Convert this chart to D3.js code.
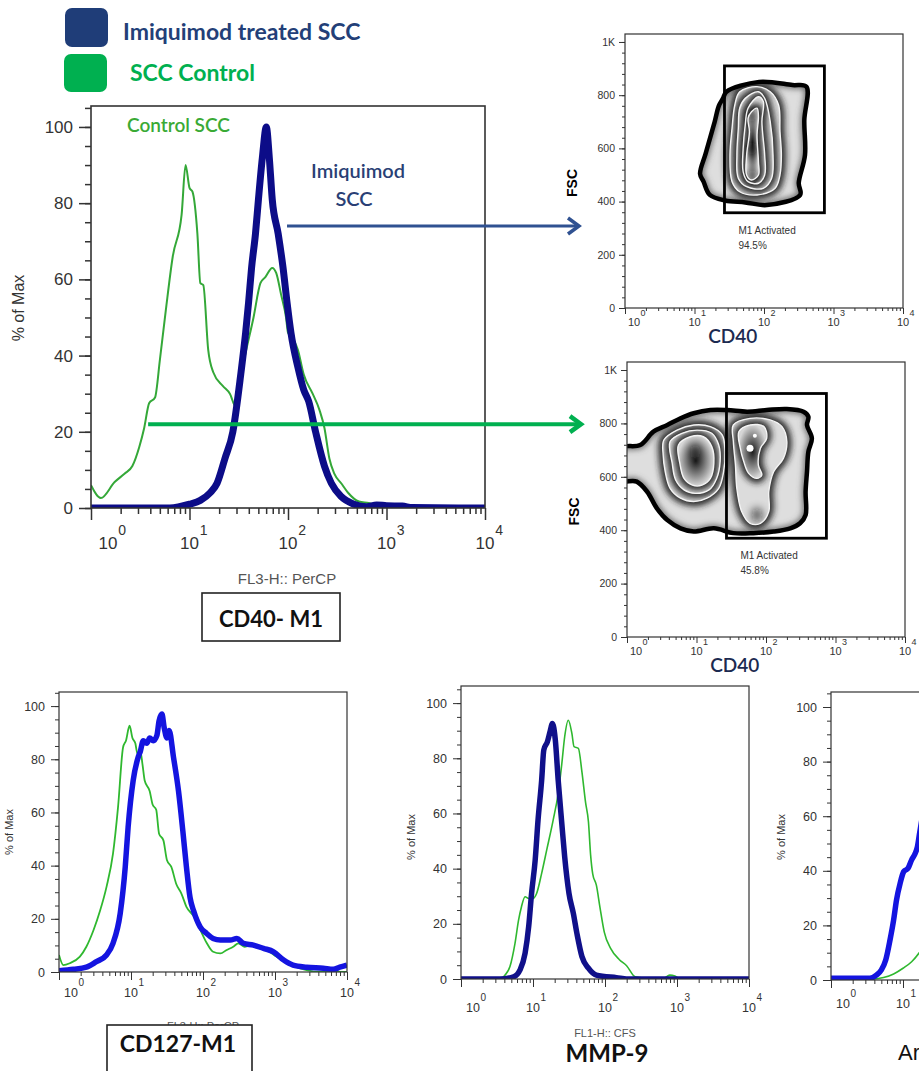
<!DOCTYPE html>
<html>
<head>
<meta charset="utf-8">
<script src="https://cdn.jsdelivr.net/npm/d3@7"></script>
<style>
  body { margin: 0; background: #fff; }
  svg { display: block; }
</style>
</head>
<body>
<div id="chart"></div>
<script>
const WIDTH = 919;
const HEIGHT = 1071;
const FONT = "'Liberation Sans', Arial, sans-serif";
const TITLE_FONT = "Lato, 'Open Sans', sans-serif";

// histogram traces, [log10 channel, % of max]
const cd40Control = [[0,6],[0.10,2.6],[0.24,6.8],[0.34,9],[0.42,11],[0.49,16],[0.54,21],[0.59,27.5],[0.65,29],[0.70,39],[0.76,52],[0.83,66],[0.92,77],[0.96,90],[1.00,84],[1.03,83],[1.08,72],[1.11,59],[1.14,58.5],[1.19,41.5],[1.24,35.7],[1.34,32],[1.41,30],[1.47,26.5],[1.54,37],[1.65,50],[1.72,59],[1.77,60.6],[1.84,63],[1.88,61.7],[1.93,56],[1.98,50],[2.00,46],[2.06,44],[2.10,41.5],[2.16,35],[2.25,30],[2.32,25.7],[2.37,21],[2.42,13],[2.47,9],[2.54,6.5],[2.61,4],[2.72,1.7],[2.82,1.3],[2.95,0.3],[4.0,0]];
const cd40Imiquimod = [[0,0],[0.80,0],[1.00,1],[1.11,2],[1.21,4],[1.28,6.5],[1.36,13],[1.44,20],[1.52,35],[1.57,46],[1.60,54],[1.63,63],[1.67,72],[1.70,81],[1.74,92],[1.78,100],[1.81,92],[1.84,81],[1.90,72],[1.95,63],[1.99,54],[2.03,46],[2.10,37],[2.16,31],[2.21,28],[2.28,20],[2.37,11],[2.44,6.5],[2.54,3],[2.67,1],[2.80,0.3],[2.90,0.8],[3.00,0.6],[3.16,0.5],[3.26,0.1],[4.0,0]];
const cd127Control = [[0,6.4],[0.06,2.6],[0.15,3.3],[0.29,5.8],[0.38,9.5],[0.48,15.8],[0.57,23],[0.66,32],[0.75,44.5],[0.82,62],[0.89,84.5],[0.93,87],[0.98,92.6],[1.02,88],[1.06,86],[1.09,82],[1.13,83],[1.16,78],[1.19,72],[1.26,68],[1.30,63],[1.35,61],[1.39,52],[1.45,49.5],[1.50,42],[1.56,39.5],[1.63,33],[1.70,29.5],[1.77,24.5],[1.87,21],[1.96,16],[2.05,11],[2.14,7.6],[2.24,7],[2.33,8.3],[2.42,9.5],[2.49,10.8],[2.58,9.5],[2.70,10.1],[2.79,8.9],[2.88,8.3],[3.02,5.8],[3.16,3.3],[3.35,1.4],[3.58,0.1],[4.0,0]];
const cd127Imiquimod = [[0,0.5],[0.20,1],[0.38,1.8],[0.52,3.9],[0.66,6.4],[0.75,10.8],[0.85,22],[0.92,39.5],[0.96,54.5],[1.03,72],[1.10,80.8],[1.13,83],[1.17,87],[1.22,86],[1.26,88],[1.31,87],[1.36,89],[1.39,94.5],[1.43,97],[1.46,92],[1.50,88],[1.53,90.8],[1.59,80.8],[1.66,68],[1.72,53],[1.77,39.5],[1.82,28],[1.87,23],[1.96,17],[2.05,14.5],[2.14,12.6],[2.24,12],[2.38,12],[2.47,12.6],[2.56,10.8],[2.70,10.1],[2.84,8.9],[2.98,7.6],[3.12,4.5],[3.25,2.6],[3.44,1.8],[3.67,1.4],[3.81,1],[3.90,1.8],[4.0,2.6]];
const mmp9Control = [[0,0],[0.54,0],[0.61,1.4],[0.68,4.5],[0.75,12.9],[0.80,21.4],[0.84,26.2],[0.89,29.8],[0.94,29.2],[1.00,29.2],[1.05,31],[1.12,38.3],[1.19,46.7],[1.28,57.6],[1.35,67.3],[1.40,78],[1.44,87.8],[1.49,93.8],[1.54,89],[1.57,84.2],[1.63,83.6],[1.68,75],[1.73,64],[1.77,57],[1.80,45],[1.83,38],[1.88,34],[1.93,26],[1.99,17],[2.08,11],[2.20,7],[2.30,4.8],[2.42,0.8],[2.72,0],[2.81,0.2],[2.90,1.4],[2.97,1.1],[3.04,0],[4.0,0]];
const mmp9Imiquimod = [[0,0],[0.54,0],[0.73,0.8],[0.82,3.3],[0.89,9.3],[0.94,19],[0.98,31],[1.03,43],[1.07,57.6],[1.12,72],[1.15,83],[1.20,86],[1.24,90],[1.27,92.6],[1.31,86.6],[1.35,72],[1.40,56.4],[1.44,44.3],[1.50,31],[1.56,23.8],[1.61,16.5],[1.68,8.1],[1.77,3.9],[1.88,1.4],[2.16,0.5],[2.35,0],[4.0,0]];
const argControl = [[0,0.4],[0.59,0.4],[0.73,0.9],[0.87,2.2],[1.00,4.3],[1.12,6.7],[1.22,9.8],[1.30,13]];
const argImiquimod = [[0,0.6],[0.54,0.6],[0.63,1.8],[0.70,3.7],[0.76,7.3],[0.82,14.7],[0.87,22],[0.91,29.3],[0.96,35.4],[1.01,39.7],[1.07,40.9],[1.12,44],[1.17,46.4],[1.20,48.8],[1.23,53.7],[1.27,60]];

const pctTicks = [0, 20, 40, 60, 80, 100];
const decadeTicks = [0, 1, 2, 3, 4];
const fscTicks = [0, 200, 400, 600, 800, 1000];
const fscTickLabels = ['0', '200', '400', '600', '800', '1K'];

// zebra contour rings, [log10 CD40, FSC]
const treatedOutline = [[1.41,788],[1.46,813],[1.93,850],[2.41,838],[2.61,832],[2.58,706],[2.59,575],[2.50,470],[2.52,425],[2.04,387],[1.73,397],[1.44,404],[1.22,425],[1.13,475],[1.08,504],[1.16,580],[1.29,700],[1.35,760]];
const treatedRings = [[
  [[1.65,813],[1.90,832],[2.09,813],[2.21,763],[2.23,663],[2.25,575],[2.23,500],[2.16,450],[1.90,425],[1.65,437],[1.54,475],[1.51,575],[1.54,675],[1.58,763]],
  [[1.73,788],[1.92,813],[2.01,788],[2.09,700],[2.13,575],[2.11,488],[1.99,450],[1.75,456],[1.63,488],[1.61,575],[1.63,675],[1.65,751]],
  [[1.77,751],[1.92,794],[1.99,776],[1.97,700],[2.01,575],[2.01,500],[1.92,469],[1.77,475],[1.70,512],[1.70,600],[1.73,688]],
  [[1.82,738],[1.90,751],[1.92,719],[1.90,650],[1.92,550],[1.92,500],[1.82,481],[1.75,500],[1.75,575],[1.79,663],[1.77,713]]
]];
const treatedDarkSpots = [[1.82,600],[1.82,725],[1.83,494]];
const treatedLightSpots = [];
const treatedGate = { cd40: [27, 740], fsc: [358, 910], label: 'M1 Activated', pct: '94.5%' };

const controlOutline = [[-0.1,707],[0.19,719],[0.38,769],[0.58,794],[0.77,819],[0.96,838],[1.20,850],[1.44,850],[1.73,844],[2.01,850],[2.30,854],[2.54,844],[2.61,825],[2.59,794],[2.66,744],[2.61,694],[2.59,619],[2.57,545],[2.57,457],[2.49,426],[2.35,407],[2.11,395],[1.82,389],[1.53,389],[1.25,407],[0.96,395],[0.77,407],[0.58,438],[0.43,482],[0.29,544],[0.14,582],[-0.1,588]];
const controlRings = [
  [
    [[0.53,738],[0.72,775],[0.96,794],[1.20,788],[1.37,757],[1.41,694],[1.39,619],[1.32,557],[1.15,520],[0.96,507],[0.77,520],[0.62,557],[0.55,619],[0.52,682]],
    [[0.62,732],[0.79,763],[1.01,775],[1.22,763],[1.32,719],[1.34,657],[1.29,594],[1.18,551],[0.98,538],[0.82,551],[0.70,588],[0.65,651]],
    [[0.74,719],[0.91,750],[1.10,750],[1.22,713],[1.25,651],[1.20,594],[1.08,569],[0.94,569],[0.82,594],[0.76,651]]
  ],
  [
    [[1.53,794],[1.77,819],[2.06,813],[2.23,788],[2.30,732],[2.25,669],[2.11,619],[2.04,545],[2.04,470],[1.92,426],[1.77,426],[1.65,470],[1.58,557],[1.56,644],[1.53,732]],
    [[1.61,769],[1.77,794],[1.97,788],[2.01,744],[1.92,707],[1.89,644],[1.94,607],[1.87,594],[1.75,613],[1.68,657],[1.63,707]]
  ]
];
const controlDarkSpots = [[0.98,694],[1.87,457]];
const controlLightSpots = [[1.77,707],[1.84,754]];
const controlGate = { cd40: [27, 740], fsc: [370, 912], label: 'M1 Activated', pct: '45.8%' };

// arrow starts on the CD40 histogram, [log10 channel, % of max]
const treatedArrowFrom = [1.99, 74];
const controlArrowFrom = [0.58, 22];

const svg = d3.select('#chart').append('svg')
  .attr('width', WIDTH)
  .attr('height', HEIGHT);
const defs = svg.append('defs');
let uid = 0;

defs.append('filter').attr('id', 'soft')
  .attr('x', '-50%').attr('y', '-50%').attr('width', '200%').attr('height', '200%')
  .append('feGaussianBlur').attr('stdDeviation', 3.2);
defs.append('filter').attr('id', 'spot')
  .attr('x', '-100%').attr('y', '-100%').attr('width', '300%').attr('height', '300%')
  .append('feGaussianBlur').attr('stdDeviation', 4);
const coreShade = defs.append('radialGradient').attr('id', 'coreShade');
coreShade.append('stop').attr('offset', '0%').attr('stop-color', '#1a1a1a');
coreShade.append('stop').attr('offset', '100%').attr('stop-color', '#d6d6d6');

function clipRect(x, y, w, h) {
  const id = 'clip' + (uid++);
  defs.append('clipPath').attr('id', id).append('rect')
    .attr('x', x).attr('y', y).attr('width', w).attr('height', h);
  return `url(#${id})`;
}

function clipPathD(d) {
  const id = 'clip' + (uid++);
  defs.append('clipPath').attr('id', id).append('path').attr('d', d);
  return `url(#${id})`;
}

function xLogAxis(g, x, y0, o) {
  const minor = [];
  decadeTicks.slice(0, -1).forEach(e => {
    for (let m = 2; m < 10; m++) minor.push(m * 10 ** e);
  });
  g.append('g').attr('transform', `translate(0,${y0})`)
    .style('color', '#333')
    .call(d3.axisBottom(x).tickValues(minor).tickSize(o.minor).tickSizeOuter(0).tickFormat(''))
    .call(s => s.select('.domain').remove())
    .call(s => s.selectAll('line').attr('stroke-width', o.stroke));
  g.append('g').attr('transform', `translate(0,${y0})`)
    .style('color', '#333')
    .call(d3.axisBottom(x).tickValues(decadeTicks.map(e => 10 ** e)).tickSize(o.major).tickSizeOuter(0).tickFormat(''))
    .call(s => s.select('.domain').remove())
    .call(s => s.selectAll('line').attr('stroke-width', o.stroke));
  decadeTicks.forEach((e, i) => {
    const cx = x(10 ** e) + (i === 0 ? o.firstShift : 0);
    g.append('text')
      .attr('x', cx).attr('y', y0 + o.labelDy)
      .attr('text-anchor', 'middle')
      .attr('font-family', FONT).attr('font-size', o.fs).attr('fill', '#333')
      .text('10');
    g.append('text')
      .attr('x', cx + o.fs * 0.6).attr('y', y0 + o.labelDy - o.supRise)
      .attr('font-family', FONT).attr('font-size', o.supFs).attr('fill', '#333')
      .text(e);
  });
}

function yLinAxis(g, y, x0, o) {
  g.append('g').attr('transform', `translate(${x0},0)`)
    .style('color', '#333')
    .call(d3.axisLeft(y).tickValues(o.minorValues).tickSize(o.minor).tickSizeOuter(0).tickFormat(''))
    .call(s => s.select('.domain').remove())
    .call(s => s.selectAll('line').attr('stroke-width', o.stroke));
  g.append('g').attr('transform', `translate(${x0},0)`)
    .style('color', '#333')
    .call(d3.axisLeft(y).tickValues(o.values).tickSize(o.major).tickPadding(o.pad).tickSizeOuter(0)
      .tickFormat((d, i) => o.labels ? o.labels[i] : d))
    .call(s => s.select('.domain').remove())
    .call(s => s.selectAll('line').attr('stroke-width', o.stroke))
    .call(s => s.selectAll('text').attr('font-family', FONT).attr('font-size', o.fs).attr('fill', '#333'));
}

function histPanel(p) {
  const g = svg.append('g');
  const x = d3.scaleLog().domain([1, 1e4]).range([p.left, p.right]);
  const y = d3.scaleLinear().domain([0, p.yMax]).range([p.bottom, p.top]);
  const line = d3.line()
    .x(d => x(10 ** d[0]))
    .y(d => y(d[1]))
    .curve(d3.curveMonotoneX);

  const plot = g.append('g').attr('clip-path', clipRect(p.left, p.top, p.right - p.left, p.bottom - p.top));
  p.series.forEach(s => {
    plot.append('path')
      .datum(s.data)
      .attr('d', line)
      .attr('fill', 'none')
      .attr('stroke', s.color)
      .attr('stroke-width', s.width)
      .attr('stroke-linejoin', 'round');
  });

  const minorPct = d3.range(0, p.yMax, 5);
  yLinAxis(g, y, p.left, { values: pctTicks, minorValues: minorPct, major: p.ax.yMajor, minor: p.ax.yMinor, pad: p.ax.yPad, fs: p.ax.yFs, stroke: p.ax.stroke });
  xLogAxis(g, x, p.bottom, p.ax.x);

  g.append('rect')
    .attr('x', p.left).attr('y', p.top)
    .attr('width', p.right - p.left).attr('height', p.bottom - p.top)
    .attr('fill', 'none').attr('stroke', '#333').attr('stroke-width', p.ax.frame);

  g.append('text')
    .attr('transform', `translate(${p.yTitleX},${p.yTitleY}) rotate(-90)`)
    .attr('text-anchor', 'middle')
    .attr('font-family', FONT).attr('font-size', p.yTitleFs).attr('fill', '#333')
    .text('% of Max');
  if (p.xTitle) {
    g.append('text')
      .attr('x', p.xTitle.x).attr('y', p.xTitle.y)
      .attr('text-anchor', 'middle')
      .attr('font-family', FONT).attr('font-size', p.xTitle.fs).attr('fill', '#555')
      .text(p.xTitle.text);
  }
  return { x, y };
}

function flowPlot(p) {
  const g = svg.append('g');
  const x = d3.scaleLog().domain([1, 1e4]).range([p.left, p.right]);
  const y = d3.scaleLinear().domain([0, 1030]).range([p.bottom, p.top]);
  const shape = d3.line()
    .x(d => x(10 ** d[0]))
    .y(d => y(d[1]))
    .curve(d3.curveCatmullRomClosed.alpha(0.5));

  const blob = g.append('g').attr('clip-path', clipRect(p.left, p.top, p.right - p.left, p.bottom - p.top));
  blob.append('path').attr('d', shape(p.outline)).attr('fill', '#dedede');
  // darker rim just inside the outline
  blob.append('g').attr('clip-path', clipPathD(shape(p.outline)))
    .append('path').attr('d', shape(p.outline))
    .attr('fill', 'none').attr('stroke', '#555').attr('stroke-width', 6).attr('filter', 'url(#soft)');

  p.rings.forEach(stack => {
    let parent = p.outline;
    stack.forEach((ring, k) => {
      blob.append('g').attr('clip-path', clipPathD(shape(parent)))
        .append('path').attr('d', shape(ring))
        .attr('fill', 'none').attr('stroke', '#222').attr('stroke-width', 9).attr('filter', 'url(#soft)');
      blob.append('path').attr('d', shape(ring))
        .attr('fill', k === stack.length - 1 ? 'url(#coreShade)' : '#dcdcdc');
      parent = ring;
    });
  });

  blob.selectAll('.dark').data(p.darkSpots).enter().append('ellipse')
    .attr('cx', d => x(10 ** d[0])).attr('cy', d => y(d[1]))
    .attr('rx', 5).attr('ry', 7)
    .attr('fill', '#111').attr('opacity', 0.75).attr('filter', 'url(#spot)');

  p.rings.forEach(stack => {
    stack.forEach(ring => {
      blob.append('path').attr('d', shape(ring))
        .attr('fill', 'none').attr('stroke', '#f4f4f4').attr('stroke-width', 1.4);
    });
  });

  blob.selectAll('.light').data(p.lightSpots).enter().append('circle')
    .attr('cx', d => x(10 ** d[0])).attr('cy', d => y(d[1]))
    .attr('r', (d, i) => i === 0 ? 3.5 : 2)
    .attr('fill', '#fff');

  blob.append('path').attr('d', shape(p.outline))
    .attr('fill', 'none').attr('stroke', '#000').attr('stroke-width', 4.5).attr('stroke-linejoin', 'round');

  const gx0 = x(p.gate.cd40[0]);
  const gx1 = x(p.gate.cd40[1]);
  const gy0 = y(p.gate.fsc[1]);
  const gy1 = y(p.gate.fsc[0]);
  g.append('rect')
    .attr('x', gx0).attr('y', gy0)
    .attr('width', gx1 - gx0).attr('height', gy1 - gy0)
    .attr('fill', 'none').attr('stroke', '#000').attr('stroke-width', 2.8);
  g.append('text')
    .attr('x', gx0 + 14).attr('y', gy1 + 21)
    .attr('font-family', FONT).attr('font-size', 10).attr('fill', '#333')
    .text(p.gate.label);
  g.append('text')
    .attr('x', gx0 + 14).attr('y', gy1 + 36)
    .attr('font-family', FONT).attr('font-size', 10).attr('fill', '#333')
    .text(p.gate.pct);

  yLinAxis(g, y, p.left, { values: fscTicks, labels: fscTickLabels, minorValues: d3.range(0, 1030, 40), major: 6, minor: 3, pad: 4, fs: 10.5, stroke: 1 });
  xLogAxis(g, x, p.bottom, { major: 6, minor: 3, stroke: 1, fs: 11, supFs: 9, labelDy: 18, supRise: 10, firstShift: 9 });

  g.append('rect')
    .attr('x', p.left).attr('y', p.top)
    .attr('width', p.right - p.left).attr('height', p.bottom - p.top)
    .attr('fill', 'none').attr('stroke', '#333').attr('stroke-width', 1.2);

  g.append('text')
    .attr('transform', `translate(${p.left - 48},${(p.top + p.bottom) / 2 + 12}) rotate(-90)`)
    .attr('text-anchor', 'middle')
    .attr('font-family', FONT).attr('font-size', 14).attr('font-weight', 'bold').attr('fill', '#000')
    .text('FSC');
  g.append('text')
    .attr('x', x(10 ** 1.55)).attr('y', p.bottom + 35)
    .attr('text-anchor', 'middle')
    .attr('font-family', TITLE_FONT).attr('font-size', 19).attr('font-weight', 600).attr('fill', '#1c2a50')
    .text('CD40');
  return { x, y };
}

function arrow(x0, x1, yy, color, width) {
  svg.append('line')
    .attr('x1', x0).attr('y1', yy).attr('x2', x1 - 2).attr('y2', yy)
    .attr('stroke', color).attr('stroke-width', width);
  svg.append('path')
    .attr('d', `M${x1 - 11},${yy - 8}L${x1},${yy}L${x1 - 11},${yy + 8}`)
    .attr('fill', 'none').attr('stroke', color).attr('stroke-width', width + 0.5)
    .attr('stroke-linejoin', 'miter');
}

function boxedTitle(x0, y0, w, h, text, tx, ty, fs) {
  svg.append('rect')
    .attr('x', x0).attr('y', y0).attr('width', w).attr('height', h)
    .attr('fill', '#fff').attr('stroke', '#222').attr('stroke-width', 1.6);
  svg.append('text')
    .attr('x', tx).attr('y', ty)
    .attr('text-anchor', 'middle')
    .attr('font-family', TITLE_FONT).attr('font-size', fs).attr('font-weight', 'bold').attr('fill', '#111')
    .text(text);
}

// legend
svg.append('rect').attr('x', 65).attr('y', 8).attr('width', 43).attr('height', 39).attr('rx', 7).attr('fill', '#1f3d78');
svg.append('rect').attr('x', 64).attr('y', 54).attr('width', 43).attr('height', 38).attr('rx', 7).attr('fill', '#00b050');
svg.append('text').attr('x', 123).attr('y', 40)
  .attr('font-family', TITLE_FONT).attr('font-size', 23).attr('font-weight', 'bold').attr('fill', '#233f78')
  .text('Imiquimod treated SCC');
svg.append('text').attr('x', 130).attr('y', 81)
  .attr('font-family', TITLE_FONT).attr('font-size', 23).attr('font-weight', 'bold').attr('fill', '#00b050')
  .text('SCC Control');

// main CD40 histogram
const main = histPanel({
  left: 91, right: 485, top: 106, bottom: 508, yMax: 105.5,
  series: [
    { data: cd40Control, color: '#34a838', width: 2 },
    { data: cd40Imiquimod, color: '#0c0c88', width: 7 }
  ],
  ax: {
    yMajor: 12, yMinor: 6, yPad: 6, yFs: 17, stroke: 1.5, frame: 1.6,
    x: { major: 12, minor: 6, stroke: 1.5, fs: 17, supFs: 14, labelDy: 41, supRise: 14, firstShift: 17 }
  },
  yTitleX: 24, yTitleY: 308, yTitleFs: 16,
  xTitle: { x: 287, y: 584, fs: 15, text: 'FL3-H:: PerCP' }
});
svg.append('text').attr('x', 127).attr('y', 132)
  .attr('font-family', TITLE_FONT).attr('font-size', 19).attr('font-weight', 600).attr('fill', '#3aaa35')
  .text('Control SCC');
svg.append('text').attr('x', 358).attr('y', 178).attr('text-anchor', 'middle')
  .attr('font-family', TITLE_FONT).attr('font-size', 20).attr('font-weight', 600).attr('fill', '#2a3f75')
  .text('Imiquimod');
svg.append('text').attr('x', 354).attr('y', 206).attr('text-anchor', 'middle')
  .attr('font-family', TITLE_FONT).attr('font-size', 20).attr('font-weight', 600).attr('fill', '#2a3f75')
  .text('SCC');
boxedTitle(202, 593, 138, 48, 'CD40- M1', 271, 627, 22);

// zebra plots
const treated = flowPlot({
  left: 625, right: 903, top: 34, bottom: 308,
  outline: treatedOutline, rings: treatedRings,
  darkSpots: treatedDarkSpots, lightSpots: treatedLightSpots, gate: treatedGate
});
const control = flowPlot({
  left: 627, right: 905, top: 362, bottom: 637,
  outline: controlOutline, rings: controlRings,
  darkSpots: controlDarkSpots, lightSpots: controlLightSpots, gate: controlGate
});

arrow(main.x(10 ** treatedArrowFrom[0]), 579, main.y(treatedArrowFrom[1]), '#2f5191', 3);
arrow(main.x(10 ** controlArrowFrom[0]), 581, main.y(controlArrowFrom[1]), '#00b050', 4);

// bottom row
const smallAxis = (labelDy) => ({
  yMajor: 8, yMinor: 4, yPad: 6, yFs: 12.5, stroke: 1, frame: 1.2,
  x: { major: 8, minor: 4, stroke: 1, fs: 12.5, supFs: 10, labelDy: labelDy, supRise: 11, firstShift: 12 }
});

histPanel({
  left: 59, right: 347, top: 692, bottom: 972, yMax: 105.3,
  series: [
    { data: cd127Control, color: '#2fb82f', width: 1.8 },
    { data: cd127Imiquimod, color: '#1414e0', width: 5.5 }
  ],
  ax: smallAxis(25),
  yTitleX: 13, yTitleY: 832, yTitleFs: 11,
  xTitle: { x: 203, y: 1030, fs: 11, text: 'FL3-H:: PerCP' }
});
boxedTitle(107, 1025, 145, 70, 'CD127-M1', 178, 1052, 23);

histPanel({
  left: 461, right: 749, top: 686, bottom: 979, yMax: 106.2,
  series: [
    { data: mmp9Control, color: '#2fb82f', width: 1.6 },
    { data: mmp9Imiquimod, color: '#10108a', width: 5.5 }
  ],
  ax: smallAxis(33),
  yTitleX: 415, yTitleY: 837, yTitleFs: 11,
  xTitle: { x: 605, y: 1037, fs: 11, text: 'FL1-H:: CFS' }
});
svg.append('text').attr('x', 607).attr('y', 1062).attr('text-anchor', 'middle')
  .attr('font-family', TITLE_FONT).attr('font-size', 24).attr('font-weight', 'bold').attr('fill', '#111')
  .text('MMP-9');

histPanel({
  left: 831, right: 1119, top: 692, bottom: 980, yMax: 105.5,
  series: [
    { data: argControl, color: '#2fb82f', width: 1.6 },
    { data: argImiquimod, color: '#1414e0', width: 5.5 }
  ],
  ax: smallAxis(28),
  yTitleX: 785, yTitleY: 837, yTitleFs: 11
});
svg.append('text').attr('x', 898).attr('y', 1060)
  .attr('font-family', FONT).attr('font-size', 22).attr('fill', '#111')
  .text('Arg-1');
</script>
</body>
</html>
